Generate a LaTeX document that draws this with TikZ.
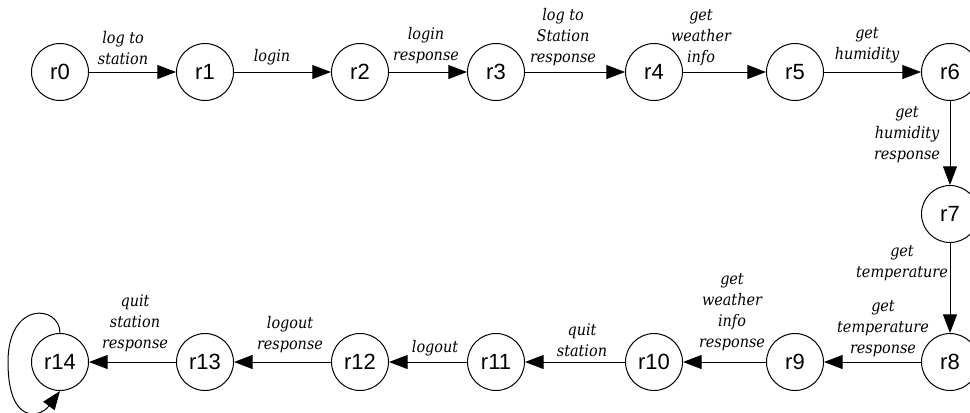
\documentclass[tikz,border=0pt]{standalone}
\usepackage{fontspec}
\setmainfont{DejaVu Serif Condensed}
\newfontfamily\statefont{Liberation Sans}
\usetikzlibrary{arrows.meta}
\begin{document}
\begin{tikzpicture}[x=0.75pt,y=-0.75pt,
  state/.style={circle,draw,line width=0.75pt,minimum size=42.75pt,inner sep=0pt,font=\statefont\fontsize{16.5}{19}\selectfont},
  tr/.style={-{Triangle[length=14pt,width=10.5pt]},line width=0.75pt},
  lbl/.style={font=\itshape\fontsize{12}{15.75}\selectfont,align=center,inner sep=0pt}]
\useasboundingbox (0,0) rectangle (970,412);
\clip (0,0) rectangle (970,412);
% states
\node[state] (r0) at (60,72) {r0};
\node[state] (r1) at (205,72) {r1};
\node[state] (r2) at (360,72) {r2};
\node[state] (r3) at (496,72) {r3};
\node[state] (r4) at (654,72) {r4};
\node[state] (r5) at (795,72) {r5};
\node[state] (r6) at (950,72) {r6};
\node[state] (r7) at (950,214) {r7};
\node[state] (r8) at (950,362) {r8};
\node[state] (r9) at (795,362) {r9};
\node[state] (r10) at (654,362) {r10};
\node[state] (r11) at (496,362) {r11};
\node[state] (r12) at (360,362) {r12};
\node[state] (r13) at (205,362) {r13};
\node[state] (r14) at (60,362) {r14};
% transitions
\draw[tr] (r0) -- (r1);
\draw[tr] (r1) -- (r2);
\draw[tr] (r2) -- (r3);
\draw[tr] (r3) -- (r4);
\draw[tr] (r4) -- (r5);
\draw[tr] (r5) -- (r6);
\draw[tr] (r6) -- (r7);
\draw[tr] (r7) -- (r8);
\draw[tr] (r8) -- (r9);
\draw[tr] (r9) -- (r10);
\draw[tr] (r10) -- (r11);
\draw[tr] (r11) -- (r12);
\draw[tr] (r12) -- (r13);
\draw[tr] (r13) -- (r14);
\draw[tr] (r14.north) .. controls (60,305) and (8,300) .. (8,362)
                      .. controls (8,425) and (40,418) .. (r14.south);
% labels
\node[lbl] (l01) at (123,48.5) {log to\\station};
\node[lbl] (l12) at (272,57) {login};
\node[lbl] (l23) at (426,45.5) {login\\response};
\node[lbl] (l34) at (563,37.5) {log to\\Station\\response};
\node[lbl] (l45) at (701,37.5) {get\\weather\\info};
\node[lbl] (l56) at (867,45) {get\\humidity};
\node[lbl] (l67) at (907,135) {get\\humidity\\response};
\node[lbl] (l78) at (902,263.5) {get\\temperature};
\node[lbl] (l89) at (883,329) {get\\temperature\\response};
\node[lbl] (l910) at (732,312) {get\\weather\\info\\response};
\node[lbl] (l1011) at (582,340) {quit\\station};
\node[lbl] (l1112) at (435,348) {logout};
\node[lbl] (l1213) at (290,335) {logout\\response};
\node[lbl] (l1314) at (135,323) {quit\\station\\response};
\end{tikzpicture}
\end{document}
